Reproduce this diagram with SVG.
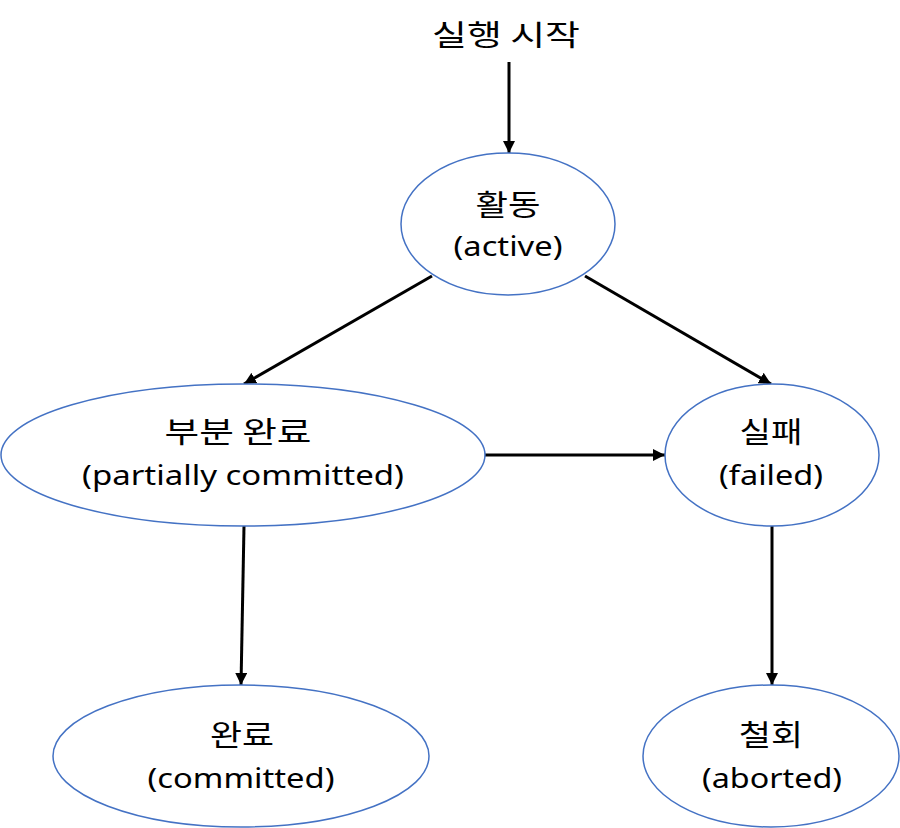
<svg xmlns="http://www.w3.org/2000/svg" width="900" height="828" viewBox="0 0 900 828">
<defs>
<marker id="ah" viewBox="0 0 10 10" refX="10" refY="5" markerWidth="4" markerHeight="4" orient="auto" markerUnits="strokeWidth">
<path d="M0,0 L10,5 L0,10 z" fill="#000"/>
</marker>
<style>
.n{fill:#fff;stroke:#4472c4;stroke-width:1.5}
.t{font-family:"Noto Sans","Noto Sans CJK KR",sans-serif;font-size:28px;text-anchor:middle;fill:#000}
.k{font-family:"Noto Sans CJK KR","Noto Sans",sans-serif;font-size:29px}
.e{stroke:#000;stroke-width:3;fill:none;marker-end:url(#ah)}
</style>
</defs>
<rect width="900" height="828" fill="#fff"/>
<g id="connectors">
<line class="e" x1="509" y1="62" x2="509" y2="153"/>
<line class="e" x1="432" y1="276" x2="244" y2="384"/>
<line class="e" x1="585" y1="276" x2="771" y2="384"/>
<line class="e" x1="485" y1="455" x2="665" y2="455"/>
<line class="e" x1="244" y1="526" x2="241" y2="685"/>
<line class="e" x1="772" y1="526" x2="772" y2="685"/>
</g>
<g id="start"><text class="t k" x="506" y="46" textLength="148" lengthAdjust="spacingAndGlyphs">실행 시작</text></g>
<g id="active"><ellipse class="n" cx="508" cy="224" rx="107" ry="71"/><text class="t k" x="508" y="216" textLength="65" lengthAdjust="spacingAndGlyphs">활동</text><text class="t" x="508" y="256" textLength="109" lengthAdjust="spacingAndGlyphs">(active)</text></g>
<g id="partial"><ellipse class="n" cx="243" cy="455" rx="242" ry="71"/><text class="t k" x="238" y="443" textLength="147" lengthAdjust="spacingAndGlyphs">부분 완료</text><text class="t" x="243" y="485" textLength="322" lengthAdjust="spacingAndGlyphs">(partially committed)</text></g>
<g id="failed"><ellipse class="n" cx="772" cy="455" rx="107" ry="71"/><text class="t k" x="771" y="443" textLength="63" lengthAdjust="spacingAndGlyphs">실패</text><text class="t" x="771" y="485" textLength="104" lengthAdjust="spacingAndGlyphs">(failed)</text></g>
<g id="committed"><ellipse class="n" cx="241" cy="756" rx="188" ry="71"/><text class="t k" x="242" y="746" textLength="64" lengthAdjust="spacingAndGlyphs">완료</text><text class="t" x="241" y="788" textLength="187" lengthAdjust="spacingAndGlyphs">(committed)</text></g>
<g id="aborted"><ellipse class="n" cx="771" cy="756" rx="128" ry="71"/><text class="t k" x="771" y="746" textLength="64" lengthAdjust="spacingAndGlyphs">철회</text><text class="t" x="772" y="788" textLength="140" lengthAdjust="spacingAndGlyphs">(aborted)</text></g>
</svg>
